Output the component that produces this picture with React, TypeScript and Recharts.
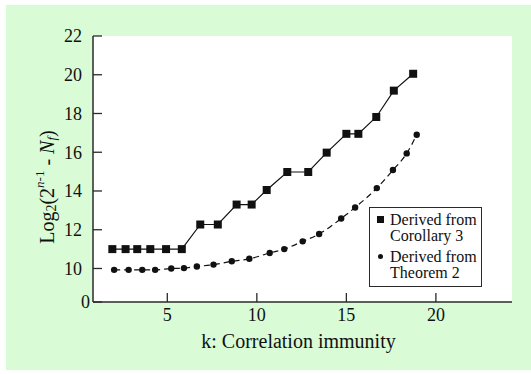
import React from 'react';
import { LineChart, Line, XAxis, YAxis, CartesianGrid, Legend } from 'recharts';

// k positions and values
const kCorollary = [1.93, 2.67, 3.32, 4.05, 4.93, 5.81, 6.84, 7.82, 8.87, 9.71, 10.55, 11.7, 12.87, 13.9, 15.0, 15.67, 16.67, 17.65, 18.73];
const vCorollary = [11, 11, 11, 11, 11, 11, 12.27, 12.27, 13.3, 13.3, 14.05, 14.98, 14.98, 15.98, 16.95, 16.95, 17.82, 19.18, 20.05];

const kTheorem = [2.03, 2.84, 3.6, 4.32, 5.22, 5.93, 6.65, 7.58, 8.6, 9.58, 10.72, 11.53, 12.56, 13.48, 14.71, 15.49, 16.7, 17.6, 18.37, 18.93];
const vTheorem = [9.93, 9.93, 9.93, 9.93, 10.0, 10.02, 10.1, 10.2, 10.37, 10.5, 10.8, 11.0, 11.4, 11.78, 12.58, 13.15, 14.15, 15.08, 15.94, 16.9];

const xTicks = [5, 10, 15, 20];
// the axis is broken: bottom label "0" sits just below 10
const Y_BREAK = 8.27;
const yTicks = [Y_BREAK, 10, 12, 14, 16, 18, 20, 22];
const xDomain = [0.85, 24.25];
const yDomain = [Y_BREAK, 22];

const seriesNames = [['Derived from', 'Corollary 3'], ['Derived from', 'Theorem 2']];

const corollaryData = kCorollary.map((k, i) => ({ k, v: vCorollary[i] }));
const theoremData = kTheorem.map((k, i) => ({ k, v: vTheorem[i] }));

const FONT = 'Liberation Serif, Times New Roman, serif';
const INK = '#111';
const FRAME = '#2a2a2a';

const SquareDot = (p: any) => (
  <rect key={p.index} x={p.cx - 4} y={p.cy - 4} width={8} height={8} fill={INK} />
);
const RoundDot = (p: any) => <circle key={p.index} cx={p.cx} cy={p.cy} r={3.2} fill={INK} />;

function YTick(props: any) {
  const { x, y, payload } = props;
  const isZero = payload.value === Y_BREAK;
  return (
    <text x={x + (isZero ? 8 : 0)} y={y} dy="0.355em" textAnchor="end" fontFamily={FONT} fontSize={18} fill={INK}>
      {isZero ? '0' : payload.value}
    </text>
  );
}

function YLabel(props: any) {
  const vb = props.viewBox;
  const cx = 47;
  const cy = vb.y + vb.height / 2 + 18;
  return (
    <text
      x={cx}
      y={cy}
      transform={`rotate(-90 ${cx} ${cy})`}
      textAnchor="middle"
      dominantBaseline="central"
      fontFamily={FONT}
      fontSize={20}
      fill={INK}
    >
      <tspan>Log</tspan>
      <tspan fontSize={14} dy={4}>2</tspan>
      <tspan dy={-4}>(2</tspan>
      <tspan fontSize={13} dy={-8} fontStyle="italic">n</tspan>
      <tspan fontSize={13}>-1</tspan>
      <tspan dy={8}> - </tspan>
      <tspan fontStyle="italic">N</tspan>
      <tspan fontSize={13} fontStyle="italic" dy={4}>f</tspan>
      <tspan dy={-4}>)</tspan>
    </text>
  );
}

function XLabel(props: any) {
  const vb = props.viewBox;
  return (
    <text x={vb.x + vb.width / 2 - 4} y={vb.y + 46} textAnchor="middle" fontFamily={FONT} fontSize={20} fill={INK}>
      k: Correlation immunity
    </text>
  );
}

function LegendBox() {
  return (
    <div
      style={{
        width: 111,
        border: `1.5px solid ${FRAME}`,
        background: '#fff',
        fontFamily: FONT,
        fontSize: 16,
        lineHeight: '16px',
        color: INK,
        padding: '4px 0 5px 0',
      }}
    >
      {seriesNames.map((lines, i) => (
        <div key={i} style={{ position: 'relative', paddingLeft: 20, marginTop: i === 0 ? 0 : 5 }}>
          {i === 0 ? (
            <span style={{ position: 'absolute', left: 7, top: 4, width: 7, height: 7, background: INK }} />
          ) : (
            <span style={{ position: 'absolute', left: 8, top: 5, width: 5, height: 5, borderRadius: '50%', background: INK }} />
          )}
          {lines.map((t) => (
            <div key={t}>{t}</div>
          ))}
        </div>
      ))}
    </div>
  );
}

export default function App() {
  return (
    <div style={{ position: 'absolute', left: 0, top: 0, width: 531, height: 374, background: '#fff' }}>
      <div style={{ position: 'absolute', left: 6, top: 5, width: 525, height: 365, background: '#d9fbd6' }} />
      <div style={{ position: 'absolute', left: 0, top: 0 }}>
        <LineChart width={531} height={374} margin={{ top: 36, right: 19, bottom: 42, left: 0 }}>
          <CartesianGrid horizontal={false} vertical={false} fill="#fff" />
          <XAxis
            xAxisId="b"
            type="number"
            dataKey="k"
            domain={xDomain}
            ticks={xTicks}
            allowDataOverflow
            height={30}
            tickSize={-9}
            tickMargin={15}
            axisLine={{ stroke: FRAME, strokeWidth: 1.5 }}
            tickLine={{ stroke: FRAME, strokeWidth: 1.3 }}
            tick={{ fill: INK, fontFamily: FONT, fontSize: 18 }}
            label={<XLabel />}
          />
          <XAxis
            xAxisId="t"
            orientation="top"
            type="number"
            domain={xDomain}
            ticks={xTicks}
            allowDataOverflow
            height={0}
            tickSize={-9}
            tick={false}
            axisLine={{ stroke: FRAME, strokeWidth: 1.5 }}
            tickLine={{ stroke: FRAME, strokeWidth: 1.3 }}
          />
          <YAxis
            yAxisId="l"
            type="number"
            domain={yDomain}
            ticks={yTicks}
            allowDataOverflow
            width={93}
            tickSize={-9}
            tickMargin={20}
            axisLine={{ stroke: FRAME, strokeWidth: 1.5 }}
            tickLine={{ stroke: FRAME, strokeWidth: 1.3 }}
            tick={<YTick />}
            label={<YLabel />}
          />
          <YAxis
            yAxisId="r"
            orientation="right"
            type="number"
            domain={yDomain}
            ticks={yTicks.slice(1, -1)}
            allowDataOverflow
            width={0}
            tickSize={-9}
            tick={false}
            axisLine={{ stroke: FRAME, strokeWidth: 1.5 }}
            tickLine={{ stroke: FRAME, strokeWidth: 1.3 }}
          />
          <Line
            xAxisId="b"
            yAxisId="l"
            data={corollaryData}
            dataKey="v"
            type="linear"
            stroke={INK}
            strokeWidth={1.2}
            dot={SquareDot}
            isAnimationActive={false}
          />
          <Line
            xAxisId="b"
            yAxisId="l"
            data={theoremData}
            dataKey="v"
            type="monotone"
            stroke={INK}
            strokeWidth={1.2}
            strokeDasharray="6 4"
            dot={RoundDot}
            isAnimationActive={false}
          />
          <Legend
            layout="vertical"
            align="center"
            verticalAlign="middle"
            content={() => <LegendBox />}
            wrapperStyle={{ left: 369, top: 207, width: 'auto' }}
          />
        </LineChart>
      </div>
    </div>
  );
}
